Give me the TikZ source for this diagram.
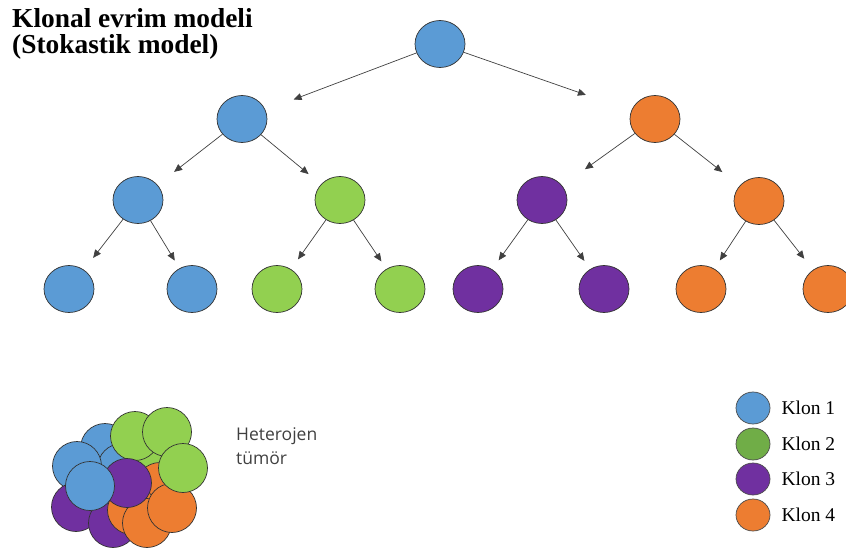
\documentclass[tikz,border=0pt]{standalone}
\usepackage{fontspec}
\setmainfont{Liberation Serif}
\newfontfamily\hetfont{Open Sans}
\usetikzlibrary{arrows.meta, positioning, shapes.geometric}

\definecolor{kblue}{HTML}{5B9BD5}
\definecolor{kgreen}{HTML}{92D050}
\definecolor{kdarkgreen}{HTML}{70AD47}
\definecolor{kpurple}{HTML}{7030A0}
\definecolor{korange}{HTML}{ED7D31}

\begin{document}
\begin{tikzpicture}[
    x=1pt, y=-1pt,
    klon/.style={ellipse, draw=black!80, line width=0.7pt, minimum width=50pt, minimum height=47pt, inner sep=0pt},
    legklon/.style={ellipse, draw=black!70, line width=0.7pt, minimum width=34pt, minimum height=32pt, inner sep=0pt},
    splitarrow/.style={-{Triangle[length=8pt,width=7pt]}, draw=black!75, line width=0.7pt},
    legtext/.style={inner sep=0pt, font=\fontsize{19.5}{21}\selectfont}
]
    \useasboundingbox (0,0) rectangle (846,549);

    % Title
    \node[anchor=base west, inner sep=0pt, font=\bfseries\fontsize{27.4}{29}\selectfont] (title1) at (12,27) {Klonal evrim modeli};
    \node[anchor=base west, inner sep=0pt, font=\bfseries\fontsize{27.4}{29}\selectfont] (title2) at (12,53) {(Stokastik model)};

    % Tree of clones
    \node[klon, fill=kblue] (root) at (440,44) {};

    \node[klon, fill=kblue]   (b1) at (242,119) {};
    \node[klon, fill=korange] (o1) at (655,119) {};

    \node[klon, fill=kblue]   (b2) at (138,200) {};
    \node[klon, fill=kgreen]  (g2) at (340,200) {};
    \node[klon, fill=kpurple] (p2) at (542,200) {};
    \node[klon, fill=korange] (o2) at (759,201) {};

    \node[klon, fill=kblue]   (b3a) at (69,289) {};
    \node[klon, fill=kblue]   (b3b) at (192,289) {};
    \node[klon, fill=kgreen]  (g3a) at (277,289) {};
    \node[klon, fill=kgreen]  (g3b) at (400,289) {};
    \node[klon, fill=kpurple] (p3a) at (478,289) {};
    \node[klon, fill=kpurple] (p3b) at (604,289) {};
    \node[klon, fill=korange] (o3a) at (701,289) {};
    \node[klon, fill=korange] (o3b) at (828,289) {};

    % Arrows (parent/child/gap)
    \foreach \p/\c/\s in {root/b1/30, root/o1/48,
                          b1/b2/21, b1/g2/16, o1/p2/28, o1/o2/22,
                          b2/b3a/15, b2/b3b/9, g2/g3a/12, g2/g3b/9,
                          p2/p3a/11, p2/p3b/10, o2/o3a/10, o2/o3b/14}
        \draw[splitarrow, shorten >=\s pt] (\p) -- (\c);

    % Heterogeneous tumour
    \foreach \x/\y/\c in {105/448/kblue, 122/468/kblue, 150/457/kgreen, 160/487/korange,
                          135/436/kgreen, 167/432/kgreen, 77/466/kblue, 76/507/kpurple,
                          113/523/kpurple, 132/510/korange, 147/523/korange, 172/508/korange,
                          183/468/kgreen, 127/483/kpurple, 90/486/kblue}
        \draw[draw=black!80, line width=0.7pt, fill=\c] (\x,\y) circle[radius=24.5];

    \node[anchor=west, align=left, inner sep=0pt, text=black!75, font=\hetfont\fontsize{17.5}{24}\selectfont] (tumor) at (236,446) {Heterojen\\tümör};

    % Legend
    \node[legklon, fill=kblue]      (leg1) at (753,408) {};
    \node[legklon, fill=kdarkgreen] (leg2) at (753,444) {};
    \node[legklon, fill=kpurple]    (leg3) at (753,479) {};
    \node[legklon, fill=korange]    (leg4) at (753,515) {};
    \node[legtext, right=11pt of leg1] (leg1t) {Klon 1};
    \node[legtext, right=11pt of leg2] (leg2t) {Klon 2};
    \node[legtext, right=11pt of leg3] (leg3t) {Klon 3};
    \node[legtext, right=11pt of leg4] (leg4t) {Klon 4};
\end{tikzpicture}
\end{document}
